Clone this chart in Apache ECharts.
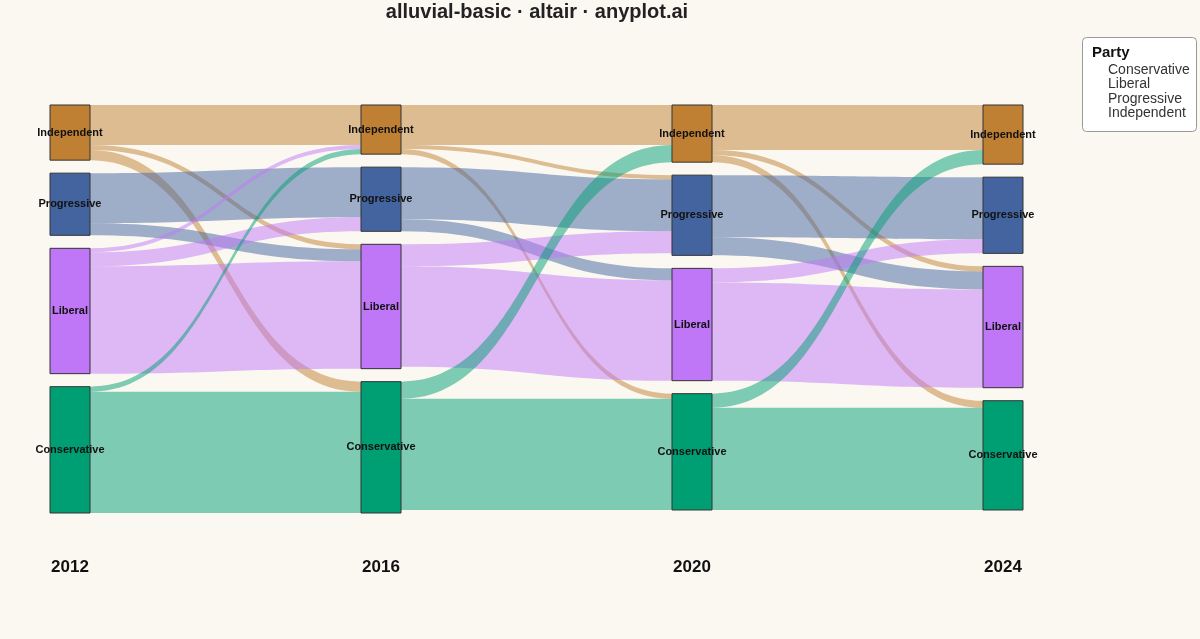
<!DOCTYPE html>
<html><head><meta charset="utf-8">
<script src="https://cdn.jsdelivr.net/npm/echarts@6/dist/echarts.min.js"></script>
<style>html,body{margin:0;background:#fbf8f1}#c{width:1200px;height:639px}</style>
</head><body><div id="c"></div>
<script>
const years = ['2012','2016','2020','2024'];
const parties = ['Independent','Progressive','Liberal','Conservative'];
const legendParties = ['Conservative','Liberal','Progressive','Independent'];
const colors = {Independent:'#bf8033',Progressive:'#4464a0',Liberal:'#c077f7',Conservative:'#009e73'};
// flows: [fromParty, fromYear, toParty, toYear, value]
const flows = [
 ['Independent','2012','Independent','2016',40],['Independent','2012','Liberal','2016',5],['Independent','2012','Conservative','2016',10],
 ['Progressive','2012','Progressive','2016',50],['Progressive','2012','Liberal','2016',12],
 ['Liberal','2012','Independent','2016',4],['Liberal','2012','Progressive','2016',14],['Liberal','2012','Liberal','2016',107],
 ['Conservative','2012','Independent','2016',5],['Conservative','2012','Conservative','2016',121],
 ['Independent','2016','Independent','2020',40],['Independent','2016','Progressive','2020',4],['Independent','2016','Conservative','2020',5],
 ['Progressive','2016','Progressive','2020',52],['Progressive','2016','Liberal','2020',12],
 ['Liberal','2016','Progressive','2020',22],['Liberal','2016','Liberal','2020',100],
 ['Conservative','2016','Independent','2020',17],['Conservative','2016','Conservative','2020',111],
 ['Independent','2020','Independent','2024',45],['Independent','2020','Liberal','2024',5],['Independent','2020','Conservative','2024',7],
 ['Progressive','2020','Progressive','2024',62],['Progressive','2020','Liberal','2024',18],
 ['Liberal','2020','Progressive','2024',14],['Liberal','2020','Liberal','2024',98],
 ['Conservative','2020','Independent','2024',14],['Conservative','2020','Conservative','2024',102]
];
const nodes=[];
years.forEach((y,i)=>parties.forEach(p=>nodes.push({name:p+' '+y,depth:i,itemStyle:{color:colors[p]}})));
const links=flows.map(f=>({source:f[0]+' '+f[1],target:f[2]+' '+f[3],value:f[4]}));
const chart=echarts.init(document.getElementById('c'));
const yearX=[70,381,692,1003];
const g=[];
years.forEach((y,i)=>g.push({type:'text',x:yearX[i],y:567,style:{text:y,font:'bold 17px Liberation Sans, Arial',fill:'#111',align:'center',verticalAlign:'middle'}}));
g.push({type:'rect',left:1082,top:37,shape:{width:114,height:94,r:4},style:{fill:'#fff',stroke:'#999',lineWidth:1}});
g.push({type:'text',left:1092,top:45,style:{text:'Party',font:'bold 15px Liberation Sans, Arial',fill:'#111'}});
legendParties.forEach((p,i)=>g.push({type:'text',left:1108,top:63+i*14.5,style:{text:p,font:'14px Liberation Sans, Arial',fill:'#333'}}));
g.push({type:'text',x:537,y:12,style:{text:'alluvial-basic · altair · anyplot.ai',font:'bold 20px Liberation Sans, Arial',fill:'#222',align:'center',verticalAlign:'middle'}});
chart.setOption({
 backgroundColor:'#fbf8f1',
 graphic:g,
 series:[{type:'sankey',left:50,right:177,top:105,bottom:126,nodeWidth:40,nodeGap:13,layoutIterations:0,
  nodeAlign:'justify',draggable:false,
  data:nodes,links:links,
  itemStyle:{borderColor:'#333',borderWidth:1},
  lineStyle:{color:'source',opacity:0.5,curveness:0.5},
  label:{position:'inside',formatter:p=>p.name.split(' ')[0],fontWeight:'bold',fontSize:11,color:'#111',fontFamily:'Liberation Sans, Arial'},
  emphasis:{disabled:true}
 }]
});
</script></body></html>
